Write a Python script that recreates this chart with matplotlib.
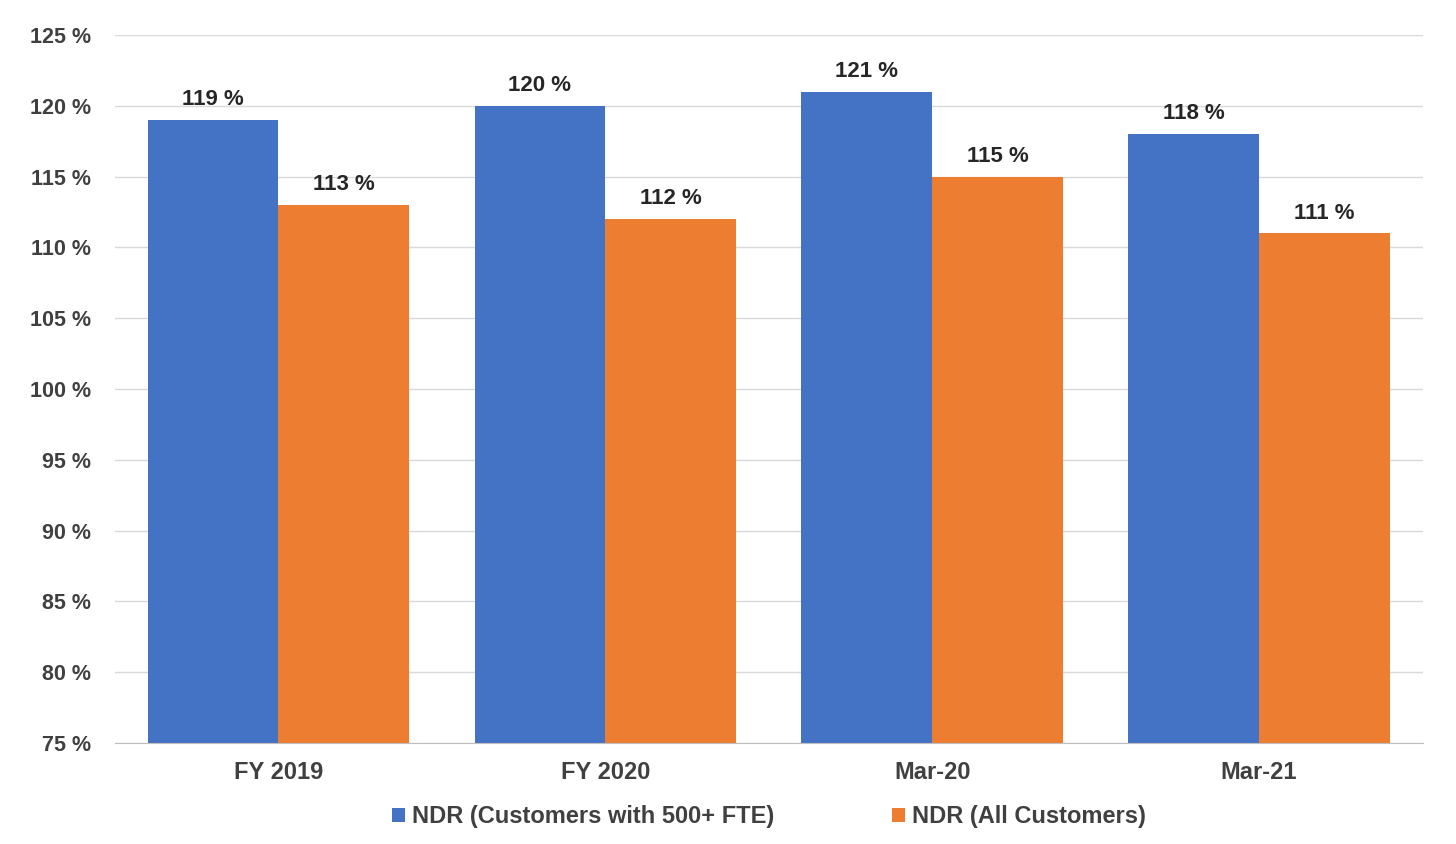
import numpy as np
import matplotlib.pyplot as plt

# datos del grafico
categorias = ["FY 2019", "FY 2020", "Mar-20", "Mar-21"]
ndr_500 = [119, 120, 121, 118]
ndr_todos = [113, 112, 115, 111]
serie_500 = "NDR (Customers with 500+ FTE)"
serie_todos = "NDR (All Customers)"

plt.rcParams['font.family'] = ['Liberation Sans', 'DejaVu Sans']
plt.rcParams['font.weight'] = 'bold'

azul = "#4472C4"
naranja = "#ED7D31"
gris = "#404040"

fig = plt.figure(figsize=(14.56, 8.44), dpi=100)
ax = fig.add_axes([0.079, 0.1197, 0.898, 0.8388])

x = np.arange(len(categorias))
ancho = 0.4
b1 = ax.bar(x - ancho/2, ndr_500, ancho, color=azul, label=serie_500, zorder=3)
b2 = ax.bar(x + ancho/2, ndr_todos, ancho, color=naranja, label=serie_todos, zorder=3)

#etiquetas encima de las barras
for barras in (b1, b2):
    for b in barras:
        ax.annotate("%d %%" % b.get_height(), (b.get_x() + b.get_width()/2, b.get_height()),
                    xytext=(0, 7), textcoords="offset points", ha="center", va="bottom",
                    fontsize=16, fontweight="bold", color="#262626")

ax.set_ylim(75, 125)
ax.set_xlim(-0.5, len(categorias) - 0.5)
ax.set_yticks(np.arange(75, 126, 5))
ax.set_yticklabels(["%d %%" % v for v in np.arange(75, 126, 5)])
ax.set_xticks(x)
ax.set_xticklabels(categorias)
ax.tick_params(axis="y", length=0, labelsize=15.5, labelcolor=gris, pad=17)
ax.tick_params(axis="x", length=0, labelsize=17, labelcolor=gris, pad=13)
ax.grid(axis="y", color="#d9d9d9", linewidth=1, zorder=0)
for lado in ["top", "right", "left"]:
    ax.spines[lado].set_visible(False)
ax.spines["bottom"].set_color("#bfbfbf")
ax.spines["bottom"].set_zorder(4)

ax.legend(loc="upper center", bbox_to_anchor=(0.5, -0.058), ncol=2, frameon=False,
          fontsize=17, handlelength=0.55, handleheight=0.55, handletextpad=0.3,
          columnspacing=5.0, labelcolor=gris)

plt.savefig("out.png", dpi=100)
